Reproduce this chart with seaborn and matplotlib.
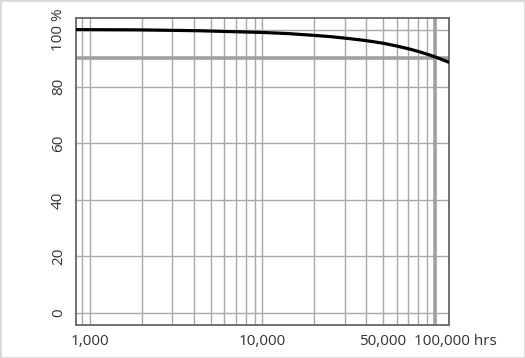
import matplotlib
matplotlib.use("Agg")
import matplotlib.pyplot as plt
import matplotlib.ticker as mticker
import matplotlib.transforms as mtransforms
import seaborn as sns
import pandas as pd
from matplotlib.patches import Rectangle

# Data
hours = [830, 1950, 4340, 6500, 10000, 14000, 19600, 25000, 32100, 40000,
         50000, 60000, 71600, 82000, 93500, 105000, 120000]
percent = [100.1, 100.0, 99.7, 99.4, 99.1, 98.7, 98.1, 97.6, 96.9, 96.2,
           95.3, 94.3, 93.2, 92.2, 91.1, 90.0, 88.6]
x_ticks = [1000, 10000, 50000, 100000]
x_ticklabels = ["1,000", "10,000", "50,000", "100,000 hrs"]
y_ticks = [0, 20, 40, 60, 80, 100]
y_ticklabels = ["0", "20", "40", "60", "80", "100 %"]
ref_percent = 90
ref_hours = 100000

sns.set_style("white")
plt.rcParams['font.family'] = ['Open Sans', 'DejaVu Sans']

fig = plt.figure(figsize=(5.25, 3.58), dpi=100)
ax = fig.add_axes([76/525, 1-325/358, (449-76)/525, (325-18)/358])

df = pd.DataFrame({"hours": hours, "percent": percent})

ax.set_xscale("log")
ax.set_xlim(830, 120500)
ax.set_ylim(-4.2, 104.2)

# grid lines
grid_x = [900] + [m * 10**e for e in (3, 4) for m in range(1, 10)] + [100000]
for gx in grid_x:
    ax.axvline(gx, color="#a8a8a8", lw=1.0, zorder=1)
for gy in y_ticks:
    ax.axhline(gy, color="#a8a8a8", lw=1.0, zorder=1)

ax.axhline(ref_percent, color="#a0a0a0", lw=2.6, zorder=2)
ax.axvline(ref_hours, color="#a0a0a0", lw=2.6, zorder=2)

sns.lineplot(data=df, x="hours", y="percent", ax=ax, color="black", lw=2.3, zorder=3)

ax.set_xticks(x_ticks)
ax.set_xticklabels(x_ticklabels)
ax.xaxis.set_minor_locator(mticker.NullLocator())
ax.set_yticks(y_ticks)
ax.set_yticklabels(y_ticklabels, rotation=90, va="center", ha="right")
ax.set_xlabel("")
ax.set_ylabel("")
ax.tick_params(axis="y", length=4.3, width=1, color="#888888", labelsize=11,
               labelcolor="#333333", pad=3)
ax.tick_params(axis="x", length=5, width=1, color="#888888", labelsize=11,
               labelcolor="#333333", pad=1.5)

# the last x label: "100,000" centred on its tick, " hrs" trailing
last = ax.get_xticklabels()[-1]
last.set_ha("left")
last.set_transform(last.get_transform() + mtransforms.ScaledTranslation(-21/100, 0, fig.dpi_scale_trans))

for s in ax.spines.values():
    s.set_color("#666666")
    s.set_linewidth(1.3)

fig.patches.append(Rectangle((0, 0), 1, 1, transform=fig.transFigure, fill=False,
                             edgecolor="#d8d8d8", lw=2))

fig.savefig("out.png", dpi=100)
